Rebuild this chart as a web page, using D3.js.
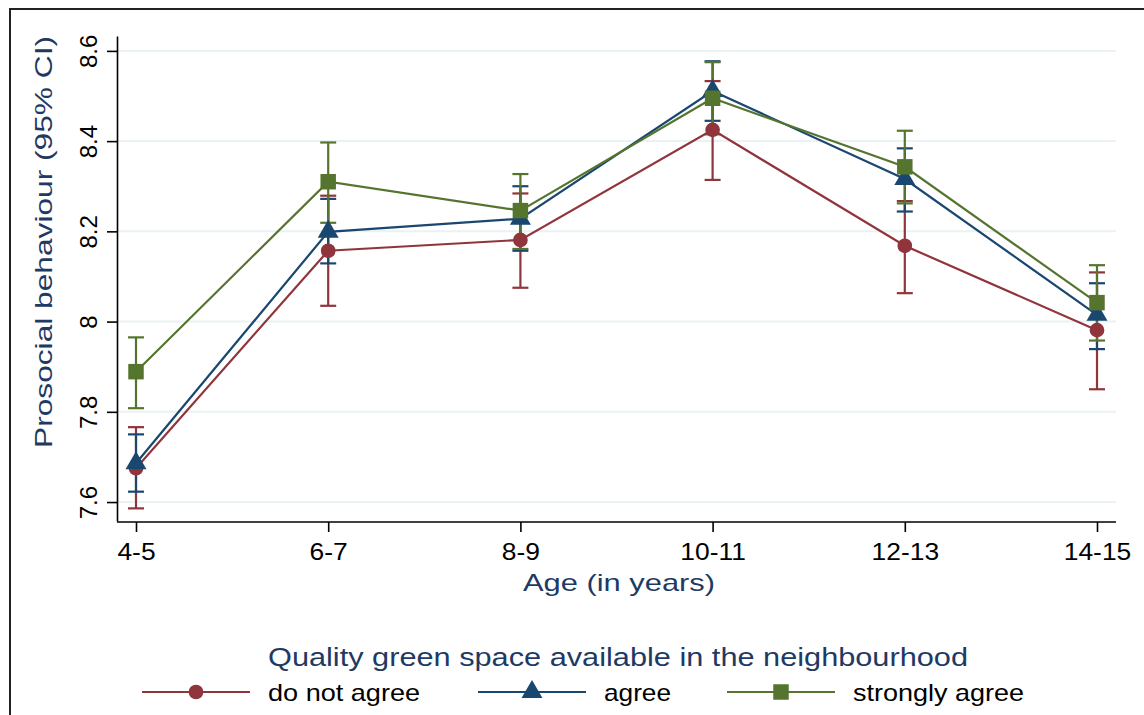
<!DOCTYPE html>
<html>
<head>
<meta charset="utf-8">
<script src="https://cdn.jsdelivr.net/npm/d3@7"></script>
<style>
  html, body { margin: 0; padding: 0; background: #fff; }
  svg { display: block; font-family: "Liberation Sans", Arial, sans-serif; }
</style>
</head>
<body>
<svg id="chart" width="1144" height="715"></svg>
<script>
// ---- data ----
const ages = ["4-5", "6-7", "8-9", "10-11", "12-13", "14-15"];
const yTicks = [7.6, 7.8, 8, 8.2, 8.4, 8.6];
const seriesNames = ["do not agree", "agree", "strongly agree"];

const notAgree   = [7.675, 8.157, 8.181, 8.425, 8.168, 7.981];
const notAgreeLo = [7.586, 8.035, 8.075, 8.314, 8.063, 7.850];
const notAgreeHi = [7.766, 8.279, 8.284, 8.533, 8.267, 8.109];

const agree   = [7.686, 8.199, 8.228, 8.511, 8.316, 8.015];
const agreeLo = [7.623, 8.129, 8.157, 8.445, 8.244, 7.939];
const agreeHi = [7.750, 8.272, 8.300, 8.577, 8.384, 8.085];

const strong   = [7.889, 8.310, 8.246, 8.495, 8.343, 8.042];
const strongLo = [7.808, 8.219, 8.161, 8.415, 8.262, 7.958];
const strongHi = [7.965, 8.397, 8.327, 8.575, 8.423, 8.125];

// ---- layout ----
const colors = ["#90353b", "#1a476f", "#55752f"];
const symbols = [d3.symbolCircle, d3.symbolTriangle, d3.symbolSquare];
const symSizes = [170, 190, 240];
const titleColor = "#1e3a64";

const series = [
  {name: seriesNames[0], v: notAgree, lo: notAgreeLo, hi: notAgreeHi},
  {name: seriesNames[1], v: agree, lo: agreeLo, hi: agreeHi},
  {name: seriesNames[2], v: strong, lo: strongLo, hi: strongHi}
];

const svg = d3.select("#chart");

// outer frame
svg.append("rect").attr("x", 10).attr("y", 9).attr("width", 1145).attr("height", 720)
  .attr("fill", "none").attr("stroke", "#222").attr("stroke-width", 2);

const plotL = 117, plotR = 1116, plotT = 36, plotB = 521;

const x = d3.scalePoint().domain(ages).range([136, 1097]);
const y = d3.scaleLinear().domain([7.558, 8.633]).range([plotB, plotT]);

// gridlines
svg.append("g").selectAll("line").data(yTicks).join("line")
  .attr("x1", plotL + 1).attr("x2", plotR)
  .attr("y1", d => y(d)).attr("y2", d => y(d))
  .attr("stroke", "#eaf2f3").attr("stroke-width", 2);

// y axis
const yAxis = svg.append("g").attr("transform", `translate(${plotL},0)`)
  .call(d3.axisLeft(y).tickValues(yTicks).tickSize(10).tickSizeOuter(0).tickFormat(d3.format("")));
yAxis.select(".domain").attr("stroke", "#000").attr("stroke-width", 1.6);
yAxis.selectAll(".tick line").attr("stroke", "#000").attr("stroke-width", 1.6);
yAxis.selectAll(".tick text")
  .attr("x", 0).attr("y", 0).attr("dy", null)
  .attr("transform", "translate(-20,0) rotate(-90)")
  .attr("text-anchor", "middle")
  .attr("fill", "#000").attr("font-size", 24)
  .style("font-family", "'Liberation Sans', Arial, sans-serif");

// x axis
const xAxis = svg.append("g").attr("transform", `translate(0,${plotB + 1})`)
  .call(d3.axisBottom(x).tickSize(10).tickSizeOuter(0));
xAxis.select(".domain").remove();
xAxis.append("line").attr("x1", plotL).attr("x2", plotR).attr("y1", 0).attr("y2", 0)
  .attr("stroke", "#000").attr("stroke-width", 1.6);
xAxis.selectAll(".tick line").attr("stroke", "#000").attr("stroke-width", 1.6);
xAxis.selectAll(".tick text")
  .attr("y", 0).attr("dy", null).attr("transform", "translate(0,38)")
  .attr("fill", "#000").attr("font-size", 24)
  .style("font-family", "'Liberation Sans', Arial, sans-serif")
  .each(function() {
    const w = this.getComputedTextLength();
    d3.select(this).attr("textLength", w * 1.1).attr("lengthAdjust", "spacingAndGlyphs");
  });

// axis titles
svg.append("text").attr("x", 619).attr("y", 591).attr("text-anchor", "middle")
  .attr("font-size", 24).attr("fill", titleColor)
  .attr("textLength", 192).attr("lengthAdjust", "spacingAndGlyphs")
  .text("Age (in years)");

svg.append("text").attr("transform", "translate(52,242) rotate(-90)").attr("text-anchor", "middle")
  .attr("font-size", 24).attr("fill", titleColor)
  .attr("textLength", 412).attr("lengthAdjust", "spacingAndGlyphs")
  .text("Prosocial behaviour (95% CI)");

// CI bars
const capW = 8;
series.forEach((s, i) => {
  const g = svg.append("g");
  const idx = d3.range(ages.length);
  g.selectAll("line.v").data(idx).join("line").attr("class", "v")
    .attr("x1", j => x(ages[j])).attr("x2", j => x(ages[j]))
    .attr("y1", j => y(s.lo[j])).attr("y2", j => y(s.hi[j]))
    .attr("stroke", colors[i]).attr("stroke-width", 2.2);
  g.selectAll("line.lo").data(idx).join("line").attr("class", "lo")
    .attr("x1", j => x(ages[j]) - capW).attr("x2", j => x(ages[j]) + capW)
    .attr("y1", j => y(s.lo[j])).attr("y2", j => y(s.lo[j]))
    .attr("stroke", colors[i]).attr("stroke-width", 2.2);
  g.selectAll("line.hi").data(idx).join("line").attr("class", "hi")
    .attr("x1", j => x(ages[j]) - capW).attr("x2", j => x(ages[j]) + capW)
    .attr("y1", j => y(s.hi[j])).attr("y2", j => y(s.hi[j]))
    .attr("stroke", colors[i]).attr("stroke-width", 2.2);
});

// connected lines + markers
const line = d3.line().x((d, j) => x(ages[j])).y(d => y(d));
series.forEach((s, i) => {
  svg.append("path").datum(s.v).attr("d", line)
    .attr("fill", "none").attr("stroke", colors[i]).attr("stroke-width", 2.2);
  svg.append("g").selectAll("path").data(s.v).join("path")
    .attr("transform", (d, j) => `translate(${x(ages[j])},${y(d)})`)
    .attr("d", d3.symbol().type(symbols[i]).size(symSizes[i]))
    .attr("fill", colors[i]);
});

// legend
svg.append("text").attr("x", 618).attr("y", 666).attr("text-anchor", "middle")
  .attr("font-size", 25).attr("fill", titleColor)
  .attr("textLength", 700).attr("lengthAdjust", "spacingAndGlyphs")
  .text("Quality green space available in the neighbourhood");

const legX = [142, 478, 727];
const legTextW = [152, 67, 171];
const legY = 692;
series.forEach((s, i) => {
  const g = svg.append("g").attr("transform", `translate(${legX[i]},${legY})`);
  g.append("line").attr("x1", 0).attr("x2", 108).attr("y1", 0).attr("y2", 0)
    .attr("stroke", colors[i]).attr("stroke-width", 2.2);
  g.append("path").attr("transform", "translate(54,0)")
    .attr("d", d3.symbol().type(symbols[i]).size(symSizes[i]))
    .attr("fill", colors[i]);
  g.append("text").attr("x", 126).attr("y", 9).attr("font-size", 24).attr("fill", "#000")
    .attr("textLength", legTextW[i]).attr("lengthAdjust", "spacingAndGlyphs")
    .text(s.name);
});
</script>
</body>
</html>
